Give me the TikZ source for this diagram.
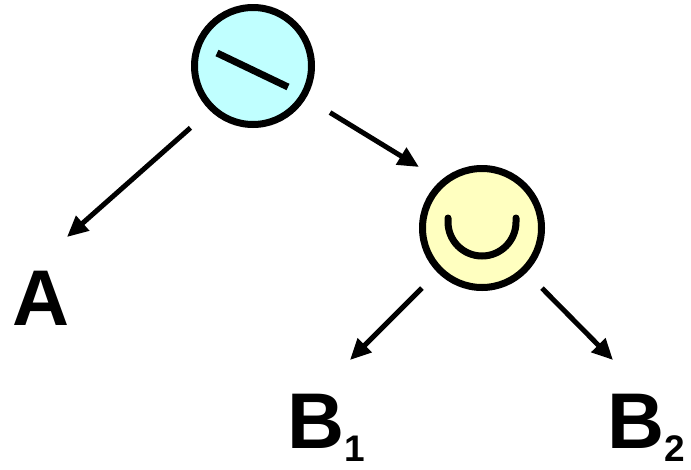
\documentclass[tikz,border=0pt]{standalone}
\usepackage{fontspec}
\setmainfont{Liberation Sans}
\usetikzlibrary{arrows.meta}
\definecolor{diffcyan}{HTML}{C0FFFF}
\definecolor{cupyellow}{HTML}{FFFFC0}
\newcommand\idx[1]{{\fontsize{37}{37}\selectfont\raisebox{-13pt}{#1}}}

\begin{document}
\begin{tikzpicture}[x=1pt,y=1pt,
  op/.style={circle,draw,line width=7pt,minimum size=117pt,inner sep=0pt},
  lbl/.style={font=\bfseries\fontsize{79}{79}\selectfont,inner sep=0pt,anchor=base west},
  arr/.style={line width=5pt,-{Triangle[length=21pt,width=19pt]}}]
\useasboundingbox (0,0) rectangle (691,-469);
\node[op,fill=diffcyan] (diff) at (253,-66) {};
\node[op,fill=cupyellow,minimum size=119pt] (union) at (482,-228) {};
% operator signs
\draw[line width=7pt] ([shift={(-36,13)}]diff.center) -- ([shift={(35,-21)}]diff.center);
\draw[line width=7pt,line cap=round] ([shift={(-34,10)}]union.center) -- ++(0,-4)
  arc[start angle=180,end angle=360,radius=34] -- ++(0,4);
% operands
\node[lbl] (a) at (12,-325) {A};
\node[lbl] (b1) at (287,-448) {B\idx{1}};
\node[lbl] (b2) at (607,-448) {B\idx{2}};
\coordinate (tipA) at (67,-237);
\coordinate (tipU) at (419,-167);
\coordinate (tipB1) at (350,-360);
\coordinate (tipB2) at (613,-360);
\draw[arr,shorten <=26pt] (diff.226) -- (tipA);
\draw[arr,shorten <=28pt] (diff.329) -- (tipU);
\draw[arr,shorten <=22pt] (union.225) -- (tipB1);
\draw[arr,shorten <=22pt] (union.315) -- (tipB2);
\end{tikzpicture}
\end{document}
